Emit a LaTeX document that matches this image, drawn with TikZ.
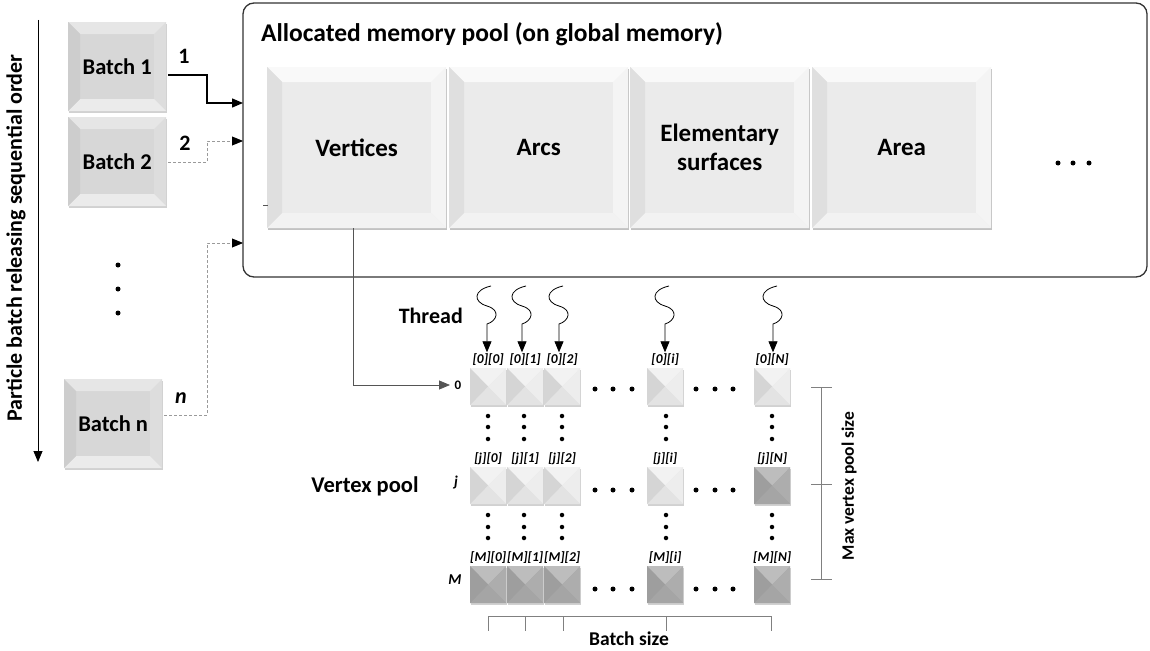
\documentclass[tikz,border=0pt]{standalone}
\usepackage{fontspec}
\setmainfont{Carlito}
\usetikzlibrary{arrows.meta,calc,shadows}

\definecolor{bigface}{HTML}{EBEBEB}
\definecolor{bigtop}{HTML}{F9F9F9}
\definecolor{bigleft}{HTML}{DFDFDF}
\definecolor{bigright}{HTML}{F4F4F4}
\definecolor{bigbot}{HTML}{F2F2F2}
\definecolor{batface}{HTML}{D7D7D7}
\definecolor{battop}{HTML}{E6E6E6}
\definecolor{batleft}{HTML}{CDCDCD}
\definecolor{batright}{HTML}{DDDDDD}
\definecolor{batbot}{HTML}{EBEBEB}
\definecolor{ltop}{HTML}{F2F2F2}
\definecolor{lleft}{HTML}{D5D5D5}
\definecolor{lright}{HTML}{EDEDED}
\definecolor{lbot}{HTML}{E3E3E3}
\definecolor{dtop}{HTML}{BDBDBD}
\definecolor{dleft}{HTML}{9E9E9E}
\definecolor{dright}{HTML}{ADADAD}
\definecolor{dbot}{HTML}{A5A5A5}
\definecolor{linegray}{HTML}{555555}
\definecolor{dotgray}{HTML}{9A9A9A}

% four bevel faces of a button, #1 = bevel width
\newcommand\bevelfaces[5]{%
  \coordinate (pA) at (path picture bounding box.north west);
  \coordinate (pB) at (path picture bounding box.north east);
  \coordinate (pC) at (path picture bounding box.south east);
  \coordinate (pD) at (path picture bounding box.south west);
  \coordinate (qA) at ([shift={(#1,-#1)}]pA);
  \coordinate (qB) at ([shift={(-#1,-#1)}]pB);
  \coordinate (qC) at ([shift={(-#1,#1)}]pC);
  \coordinate (qD) at ([shift={(#1,#1)}]pD);
  \fill[#2] (pA)--(pB)--(qB)--(qA)--cycle;
  \fill[#3] (pA)--(qA)--(qD)--(pD)--cycle;
  \fill[#4] (pB)--(qB)--(qC)--(pC)--cycle;
  \fill[#5] (pD)--(qD)--(qC)--(pC)--cycle;
}
% pyramid-shaped cell faces meeting at the centre
\newcommand\pyramidfaces[4]{%
  \coordinate (pA) at (path picture bounding box.north west);
  \coordinate (pB) at (path picture bounding box.north east);
  \coordinate (pC) at (path picture bounding box.south east);
  \coordinate (pD) at (path picture bounding box.south west);
  \coordinate (pO) at (path picture bounding box.center);
  \fill[#1] (pA)--(pB)--(pO)--cycle;
  \fill[#2] (pA)--(pO)--(pD)--cycle;
  \fill[#3] (pB)--(pO)--(pC)--cycle;
  \fill[#4] (pD)--(pO)--(pC)--cycle;
}

\tikzset{
  bigbtn/.style={inner sep=0, anchor=north west, minimum width=179pt,
    minimum height=161pt, align=center, fill=bigface,
    font=\bfseries\fontsize{25}{29}\selectfont,
    drop shadow={shadow xshift=1pt, shadow yshift=-2pt, fill=black!40, opacity=0.6},
    path picture={\bevelfaces{15pt}{bigtop}{bigleft}{bigright}{bigbot}}},
  batchbtn/.style={inner sep=0, anchor=north west, minimum width=98pt,
    minimum height=89pt, fill=batface,
    font=\bfseries\fontsize{22.5}{26}\selectfont,
    drop shadow={shadow xshift=1pt, shadow yshift=-2pt, fill=black!30, opacity=0.6},
    path picture={\bevelfaces{12pt}{battop}{batleft}{batright}{batbot}}},
  cellL/.style={inner sep=0, anchor=north west, minimum width=36pt,
    minimum height=37pt, fill=lbot,
    drop shadow={shadow xshift=0.8pt, shadow yshift=-1.5pt, fill=black!30, opacity=0.6},
    path picture={\pyramidfaces{ltop}{lleft}{lright}{lbot}}},
  cellD/.style={cellL, fill=dbot,
    path picture={\pyramidfaces{dtop}{dleft}{dright}{dbot}}},
  idx/.style={font=\bfseries\itshape\fontsize{13.5}{15}\selectfont, inner sep=1pt, anchor=south},
  lab/.style={font=\bfseries\fontsize{22}{26}\selectfont, inner sep=0},
  tip/.style={-{Triangle[length=11pt,width=9pt]}},
  feed/.style={tip, draw=dotgray, densely dashed, line width=0.6pt},
  blob/.style={circle, fill=black, inner sep=0, minimum size=5pt},
  bracket/.style={draw=gray, line width=0.9pt},
}

\begin{document}
\begin{tikzpicture}[x=1pt,y=-1pt]
\useasboundingbox (0,0) rectangle (1150,650);

% ---- memory pool container ----
\draw[line width=1.3pt, draw=black!80, rounded corners=11pt] (243,3) rectangle (1147,277);
\node[anchor=west, font=\bfseries\fontsize{25.5}{29}\selectfont, inner sep=0] (title) at (261,34)
  {Allocated memory pool (on global memory)};

\node[bigbtn] (vert) at (267,67) {Vertices};
\node[bigbtn] (arcs) at (449,67) {Arcs};
\node[bigbtn] (elem) at (630,67) {Elementary\\surfaces};
\node[bigbtn] (area) at (812,67) {Area};
\foreach \x in {1058,1073,1089} \node[blob] at (\x,163) {};
\draw[linegray, line width=0.6pt] (263,205.5) -- (268,205.5);

% entry points on the pool's left edge
\coordinate (in1) at (243,103);
\coordinate (in2) at (243,141);
\coordinate (inn) at (243,243);

% ---- particle batches ----
\node[batchbtn] (b1) at (68,22) {Batch 1};
\node[batchbtn] (b2) at (68,117) {Batch 2};
\node[batchbtn] (bn) at (64,379) {Batch n};
\foreach \y in {265,289,313} \node[blob] at (118,\y) {};

\coordinate (o1) at (168,75);
\coordinate (o2) at (168,162);
\coordinate (on) at (164,415);
\draw[tip, line width=1.3pt] (o1) -- (207,75) -- (207,103) -- (in1);
\draw[feed] (o2) -- (207,162) -- (207,141) -- (in2);
\draw[feed] (on) -- (207,415) -- (207,243) -- (inn);
\fill (in2) -- ++(-11,-4.5) -- ++(0,9) -- cycle;
\fill (inn) -- ++(-11,-4.5) -- ++(0,9) -- cycle;
\node[lab] at (184,56) {1};
\node[lab] at (185,143) {2};
\node[lab, font=\bfseries\itshape\fontsize{22}{26}\selectfont] at (181,398) {n};

% sequential order axis
\coordinate (ax1) at (38,20);
\coordinate (ax2) at (38,462);
\draw[tip, line width=0.8pt] (ax1) -- (ax2);
\node[rotate=90, font=\bfseries\fontsize{22}{26}\selectfont, inner sep=0] (axlab) at (16,238)
  {Particle batch releasing sequential order};

% ---- vertex pool grid ----
\foreach \r/\c/\x/\y/\s in {
  0/0/470/368/cellL, 0/1/507/368/cellL, 0/2/544/368/cellL, 0/i/647/368/cellL, 0/N/754/368/cellL,
  j/0/470/467/cellL, j/1/507/467/cellL, j/2/544/467/cellL, j/i/647/467/cellL, j/N/754/467/cellD,
  M/0/470/566/cellD, M/1/507/566/cellD, M/2/544/566/cellD, M/i/647/566/cellD, M/N/754/566/cellD}
{
  \node[\s] (c\r\c) at (\x,\y) {};
  \node[idx] (t\r\c) at ([yshift=1.5pt]c\r\c.north) {[\r][\c]};
}

% row labels
\node[font=\bfseries\fontsize{13}{15}\selectfont] (r0) at (458,385) {0};
\node[font=\bfseries\itshape\fontsize{15}{17}\selectfont] (rj) at (456,482) {j};
\node[font=\bfseries\itshape\fontsize{15}{17}\selectfont] (rM) at (455,580) {M};

% horizontal ellipses between columns
\foreach \y in {389,490,589}{
  \foreach \x in {595,613,632,696,715,733} \node[blob] at (\x,\y) {};
}
% vertical ellipses between rows
\foreach \x in {488,524,562,666,772}{
  \foreach \y in {416,427,439,515,527,538} \node[blob, minimum size=4.5pt] at (\x,\y) {};
}

% link from the vertex buffer to the grid
\coordinate (g0) at (450,385);
\draw[tip, draw=linegray, line width=0.8pt] (vert.south -| 353,0) -- (353,385) -- (g0);

% threads
\node[lab, anchor=east] (thr) at (463,316) {Thread};
\foreach \x/\n in {487/00,522/01,559/02,665/0i,773/0N}{
  \draw[tip, line width=0.8pt]
    (\x+4,286) .. controls (\x-14,290) and (\x-14,302) .. (\x,306)
    .. controls (\x+14,310) and (\x+10,321) .. (\x,324) -- (t\n.north -| \x,0);
}

\node[lab, font=\bfseries\fontsize{22.5}{26}\selectfont] (vpool) at (365,486) {Vertex pool};

% max vertex pool size bracket
\draw[bracket] (821,387) -- (821,579);
\foreach \y in {387,484,579} \draw[bracket] (811,\y) -- (832,\y);
\node[rotate=90, font=\bfseries\fontsize{17.5}{20}\selectfont, inner sep=0] (mvp) at (849,486)
  {Max vertex pool size};

% batch size bracket
\draw[bracket] (488,616) -- (771,616);
\foreach \x in {488,525,563,666,771} \draw[bracket] (\x,616) -- (\x,631);
\node[font=\bfseries\fontsize{19.5}{22}\selectfont, inner sep=0] (bsz) at (629,639) {Batch size};
\end{tikzpicture}
\end{document}
